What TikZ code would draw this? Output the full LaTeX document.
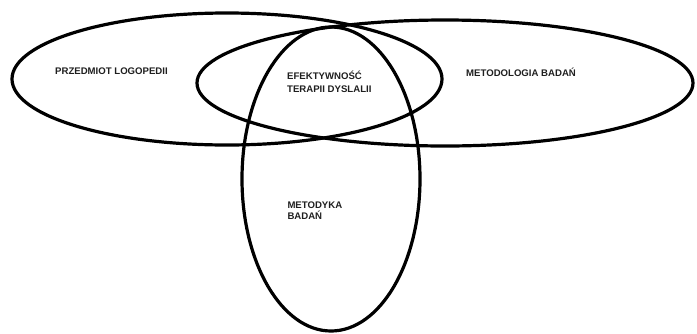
\documentclass[tikz,border=0pt]{standalone}
\usepackage{fontspec}
\setmainfont{Liberation Sans}
\begin{document}
\begin{tikzpicture}[x=1pt,y=-1pt,
  ring/.style={draw=black,line width=3.2pt},
  lbl/.style={font=\fontsize{9.6}{12}\selectfont\bfseries,text=black!88,inner sep=0pt,anchor=base west}]
\useasboundingbox (0,0) rectangle (697,333);
% ellipses
\draw[ring] (227,79) ellipse [x radius=215, y radius=66];
\draw[ring] (445,83) ellipse [x radius=248, y radius=63];
\draw[ring] (331,179) ellipse [x radius=89, y radius=152];
% labels
\node[lbl] (przedmiot) at (55,74) {PRZEDMIOT LOGOPEDII};
\node[lbl] (efekt1) at (287,79.3) {EFEKTYWNOŚĆ};
\node[lbl] (efekt2) at (287,92.7) {TERAPII DYSLALII};
\node[lbl] (metodologia) at (466,76.5) {METODOLOGIA BADAŃ};
\node[lbl] (metodyka1) at (287.3,208.3) {METODYKA};
\node[lbl] (metodyka2) at (287.3,219.8) {BADAŃ};
\end{tikzpicture}
\end{document}
